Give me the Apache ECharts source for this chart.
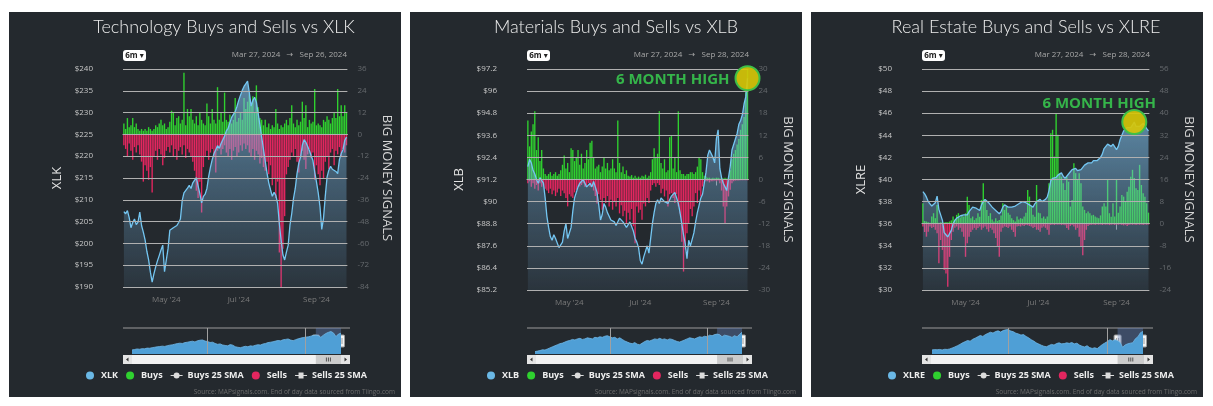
<!DOCTYPE html>
<html><head><meta charset="utf-8">
<script src="https://cdn.jsdelivr.net/npm/echarts@6/dist/echarts.min.js"></script>
<style>
html,body{margin:0;padding:0;background:#ffffff;}
body{width:1213px;height:406px;position:relative;overflow:hidden;}
.p{position:absolute;top:12px;width:392px;height:385px;background:#24292e;}
</style></head>
<body>
<div id="c1" class="p" style="left:9px"></div>
<div id="c2" class="p" style="left:410px"></div>
<div id="c3" class="p" style="left:811px"></div>
<script>
// ---------- categories ----------
const holidays = ['2024-03-29','2024-05-27','2024-06-19','2024-07-04','2024-09-02'];
const labelMonths = [4, 6, 8]; // May, Jul, Sep
const monthNames = ['Jan','Feb','Mar','Apr','May','Jun','Jul','Aug','Sep','Oct','Nov','Dec'];
const legendNames = ['Buys', 'Buys 25 SMA', 'Sells', 'Sells 25 SMA'];

// ---------- XLK ----------
const xlkPrice = [207.3,206.8,207.5,205.9,203.6,204.8,205.6,204.3,204.9,207.2,
204.1,202.6,200.8,198.2,196.2,193.4,191.1,193.0,194.6,196.0,
197.2,198.5,199.6,193.5,193.9,198.8,203.0,202.8,203.6,203.4,
204.1,204.8,205.6,209.8,211.6,212.0,212.7,213.3,212.6,213.9,
214.2,215.1,213.2,211.4,209.3,210.8,211.3,212.6,215.4,217.5,
219.2,220.6,221.5,222.4,221.8,222.9,223.1,224.6,225.8,226.4,
227.7,228.9,229.6,230.2,231.4,232.8,234.0,235.1,236.0,236.6,
237.2,234.6,231.5,232.8,233.5,232.4,232.8,227.2,224.3,221.6,
218.9,216.2,213.9,212.3,210.8,211.7,211.0,209.2,204.5,200.7,
197.4,196.2,198.0,199.6,204.2,206.8,210.3,212.6,216.0,218.4,
219.8,222.5,223.8,223.2,222.9,221.3,220.1,219.0,216.4,214.1,
211.6,208.4,203.2,205.8,210.9,215.2,216.8,217.7,217.0,217.3,
216.5,216.0,219.2,220.6,221.5,223.6,224.4];
const xlkBuys = [6,3,9,4,5,9,4,6,3,2,
3,2,3,2,4,3,2,3,5,4,
6,8,5,6,3,4,7,13,12,5,
9,10,6,8,34,5,14,10,14,8,
6,10,5,12,8,6,5,17,10,6,
14,8,6,26,8,12,7,23,8,7,
11,6,8,20,7,9,12,8,20,14,
18,22,16,21,12,27,15,9,8,5,
8,4,6,3,5,4,14,6,3,5,
4,6,8,5,9,16,6,4,8,5,
7,18,9,16,4,8,6,7,25,5,
6,5,4,8,7,10,8,6,9,12,
9,25,10,16,10,16,12];
const xlkSells = [-6,-8,-12,-5,-9,-14,-7,-10,-6,-11,
-15,-26,-17,-20,-25,-18,-32,-12,-9,-14,
-8,-11,-17,-13,-9,-7,-10,-6,-12,-8,
-14,-9,-7,-11,-6,-13,-8,-10,-12,-15,
-20,-31,-35,-26,-43,-18,-12,-9,-14,-10,
-8,-12,-21,-9,-7,-11,-8,-6,-10,-12,
-8,-14,-9,-7,-12,-10,-6,-9,-5,-8,
-6,-10,-12,-8,-14,-9,-11,-16,-13,-18,
-20,-15,-22,-17,-28,-24,-35,-26,-65,-84,
-63,-45,-22,-18,-14,-10,-12,-8,-15,-21,
-12,-9,-14,-19,-11,-8,-13,-10,-25,-17,
-22,-28,-20,-24,-15,-12,-19,-10,-8,-17,
-9,-11,-7,-12,-8,-10,-6];
const xlkNav = [105,108,112,110,114,113,118,117,121,124,
127,129,132,130,135,139,141,146,150,153,
151,157,160,164,167,162,170,174,176,168,
165,158,160,151,145,148,140,137,134,143,
139,128,124,121,126,131,128,134,132,138,
142,140,147,151,157,160,163,168,172,170,
177,180,183,175,171,178,184,189,193,196,
198,203,208,210,206,195,210,222,230,236,
226,200,218,224];
const xlkPriceTicks = [190, 240, 5];
const xlkSignalTicks = [-84, 36, 12];
const xlkNavRange = [76, 261];

// ---------- XLB ----------
const xlbPrice = [91.9,92.3,92.1,91.7,91.5,91.2,91.0,91.3,91.4,91.0,
90.2,89.2,88.6,88.1,87.9,88.2,88.0,88.1,87.5,87.6,
87.8,88.4,88.8,88.0,87.9,88.6,89.5,90.2,90.5,90.8,
91.0,91.1,91.2,91.0,90.8,90.9,91.0,90.8,91.1,91.0,
90.5,89.8,89.0,89.3,89.9,89.7,89.4,89.2,89.0,89.1,
88.9,88.7,88.8,89.1,89.0,88.9,88.8,88.6,88.5,88.9,
89.0,88.4,88.0,87.8,87.5,86.8,86.6,87.0,87.3,87.6,
87.2,88.0,88.8,89.4,89.9,90.1,89.9,90.2,90.3,90.0,
90.1,89.9,90.0,90.3,90.4,90.5,90.2,89.9,89.4,88.8,
88.2,87.7,86.9,87.9,87.6,87.7,88.3,88.9,89.4,89.8,
90.2,90.4,91.0,91.6,92.5,92.8,92.7,92.4,92.1,93.4,
93.9,91.8,91.3,91.0,90.8,90.6,91.3,91.9,92.8,93.1,
93.4,93.7,94.2,94.4,94.7,95.3,95.7,96.7];
const xlbBuys = [16,9,13,15,18.5,8,11.5,5,8,3,
1.5,1,1.5,2,1,1.5,2,1,1.5,2.5,
4,6.5,3,4.5,2,8.5,8,5,6,8,
4,7,3,4.5,8,5.5,10,10.5,6,3,
3.5,4,2,3.5,6,3,4.5,2.5,3,5.5,
3,2,16,4.5,2,3.5,1.5,2.5,1,0.8,
1.2,0.5,1,0.5,0.8,0.5,1,0.8,1.3,0.5,
1,2,5.5,8.5,6,7,18.5,4.5,3,5.5,
2,2.5,11.5,12,3,6,2,18.5,2.5,1.5,
1.5,1,1.5,1.5,2,2,1.5,2,3.5,6,
5.5,2,1,0.8,0.5,0.5,0.3,0.5,0.3,0.5,
0.5,0.3,0.5,0.3,0.5,0.3,0.5,2.5,5.5,7,
8,9.5,11,13.5,15,17,24,30];
const xlbSells = [-1,-0.5,-2,-1,-2.5,-1.5,-3,-1,-2,-1.5,
-2.5,-3,-3.7,-2.5,-4,-3,-4.5,-3.5,-2.5,-4.5,
-3,-3.7,-5,-7.3,-4,-4.6,-5,-3.5,-2.8,-2,
-1.9,-1.5,-1,-2,-1.5,-1,-2,-1.5,-3,-4.5,
-6.5,-4,-5.5,-8.2,-5,-6.4,-4.5,-7.3,-5.5,-8.2,
-6,-7.3,-5,-9.2,-7,-10,-8.5,-11.8,-9,-10.9,
-8,-12.7,-17.3,-7.3,-9,-8.2,-10.9,-6.5,-7.3,-5,
-6.4,-3,-1.5,-1,-2,-1,-1.5,-3.7,-2.5,-4.6,
-3,-7.3,-4,-3.7,-5,-6.4,-4,-7.3,-9.2,-16.9,
-25,-19,-14.6,-11.8,-8,-10,-7.3,-3.7,-6.4,-3,
-4.6,-1.9,-1,-0.5,-0.5,-0.8,-0.5,-0.5,-0.3,-0.5,
-0.3,-1,-3,-7.3,-11.9,-7.3,-4.6,-2.8,-1,-0.5,
-0.3,-0.3,-0.3,-0.2,-0.2,-0.2,-0.2,-0.2];
const xlbNav = [60,61,62,63.5,63,65,67,69,71,73,
75,76,78,80,81,83,82,84,85,83,
84,86,85,84,87,86,88,87,89,90,
88,86,87,84,86,83,80,78,76,75,
77,74,73,76,79,81,80,82,84,83,
85,83,84,82,84,83,81,79,78,80,
82,84,86,85,84,86,88,87,89,88,
91,90,92,93,91.9,88.1,91.0,89.9,88.8,86.8,
90.1,87.7,92.5,96.5];
const xlbPriceTicks = [85.2, 97.2, 1.2];
const xlbSignalTicks = [-30, 30, 6];
const xlbNavRange = [55.5, 104.5];

// ---------- XLRE ----------
const xlrePrice = [38.9,38.7,38.4,38.0,37.8,37.6,37.5,37.9,38.5,37.3,
36.8,36.3,35.2,35.0,34.8,35.1,35.4,36.0,36.3,36.5,
36.4,36.7,36.6,36.8,36.9,36.8,37.1,37.3,37.5,37.6,
37.4,37.3,37.2,37.7,38.0,38.2,38.1,37.9,37.7,37.5,
37.4,37.2,37.1,36.9,37.1,37.5,37.7,37.6,37.5,37.4,
37.5,37.6,37.6,37.7,37.8,37.9,38.0,38.0,37.9,37.8,
37.7,37.6,37.5,37.8,38.0,38.1,38.2,38.0,38.1,38.2,
38.4,39.0,39.9,40.1,40.0,40.2,40.4,40.5,40.6,40.3,
40.1,40.0,40.5,40.7,40.9,41.0,41.0,40.8,40.7,40.9,
41.1,41.3,41.4,41.5,41.4,41.5,41.7,41.8,41.7,41.8,
42.0,42.3,42.8,43.0,43.2,43.1,43.0,43.2,43.3,42.7,
43.0,43.6,44.0,44.4,44.5,44.7,44.6,44.7,44.8,45.2,
44.8,44.95,44.8,44.9,45.1,45.0,44.6,44.4];
const xlreBuys = [7.4,1,0.8,0.5,0.3,2.6,3.8,2,6.8,0.3,
0.5,0.6,0.4,0.6,0.5,0.8,1.2,2.6,1.5,3.2,
3.8,2.2,3.2,2.6,3.8,9.8,6.8,2,2.6,1.3,
2,3.8,2.5,8.6,14.6,8.6,5,2.8,3.8,1.5,
0.8,2,1,1.3,3,7.4,5,6.2,4,3.2,
2,1.3,0.8,2.6,1.5,2,1.8,2.6,4,12.2,
9.8,6.2,3.2,2.5,14,4,3.8,2,2.6,1.8,
2.6,14.6,32.7,34,24.3,40,32.2,18.3,17,14.6,
12.2,17,15.2,6.2,8.6,21.9,18.3,15.9,18.3,14.6,
6.2,5,3.8,4.4,3.8,3,3.2,2.6,2.2,2,
3,6.2,7.4,6.2,15.9,3.8,2.5,7.4,2.6,15.9,
4,6.2,10.4,9.8,8,11.6,13.4,17,19.5,16.5,
12.8,12.2,21.3,14,11,9.8,7.4,4];
const xlreSells = [-1,-3,-4.7,-2.9,-1,-1.6,-1.2,-2.2,-3.5,-14.3,
-5.9,-9.5,-16.8,-18,-22.8,-12,-5.9,-2.9,-1.5,-1,
-2.2,-1.5,-2.9,-4.7,-12,-7.1,-4.7,-3,-2.2,-1.5,
-2.2,-1.6,-1,-2.2,-1.5,-1,-2,-2.9,-1.5,-2.2,
-3.5,-5.2,-8.2,-12,-2.9,-1.5,-1,-1.2,-1.6,-1,
-2.2,-3,-4.7,-1,-0.8,-1,-0.6,-0.8,-0.5,-0.6,
-0.8,-1,-1.6,-1.2,-2.2,-2,-2.9,-1.5,-1,-1.5,
-2.2,-4,-0.5,-0.3,-0.5,-0.3,-0.4,-0.3,-0.5,-0.4,
-0.6,-1.6,-2.2,-0.8,-0.5,-1,-2.2,-1.5,-4.7,-8.3,
-11.4,-5.9,-2.2,-0.8,-0.5,-0.4,-0.3,-0.5,-0.3,-0.4,
-0.3,-0.5,-0.3,-0.4,-0.3,-0.5,-0.4,-0.3,-0.5,-0.3,
-0.4,-0.3,-0.5,-0.6,-0.4,-0.8,-0.5,-0.3,-0.4,-0.3,
-0.5,-0.3,-0.4,-0.3,-0.5,-0.3,-0.4,-0.3];
const xlreNav = [34,34.2,34.1,34.3,34.0,34.4,34.3,34.6,35.2,35.8,
36.5,37.3,38.2,38.9,39.6,39.2,40.3,41.0,41.8,42.6,
42.0,43.1,43.8,44.5,44.0,44.9,45.3,44.6,45.5,45.9,
46.1,45.2,44.8,43.9,43.5,42.8,43.1,42.0,41.2,40.1,
39.3,38.2,37.5,36.8,36.2,35.9,36.6,37.3,36.9,37.8,
38.2,37.6,37.8,38.2,37.9,38.4,37.6,38.0,36.9,36.2,
35.8,36.5,35.4,34.9,35.3,34.8,36.0,37.2,38.1,39.0,
40.1,39.4,40.0,39.5,38.4,35.6,37.0,37.6,38.0,38.3,
40.6,41.8,44.2,45.0];
const xlrePriceTicks = [30, 50, 2];
const xlreSignalTicks = [-24, 56, 8];
const xlreNavRange = [31.6, 47];

const navYearLines = [30, 69];

// ---------- helpers ----------
function tradingDays(start, end) {
  const out = [];
  let d = new Date(start + 'T00:00:00Z');
  const e = new Date(end + 'T00:00:00Z');
  while (d <= e) {
    const wd = d.getUTCDay();
    const s = d.toISOString().slice(0, 10);
    if (wd !== 0 && wd !== 6 && holidays.indexOf(s) < 0) out.push(s);
    d = new Date(d.getTime() + 86400000);
  }
  return out;
}
function fmtMonth(v) {
  return monthNames[+v.slice(5, 7) - 1] + " '" + v.slice(2, 4);
}
const FONT = "'Open Sans', 'DejaVu Sans', sans-serif";
const TFONT = "Lato, 'Open Sans', sans-serif";
function txt(x, y, text, font, fill, align, valign) {
  return { type: 'text', x: x, y: y, silent: true, z: 100,
    style: { text: text, font: font, fill: fill, textAlign: align, textVerticalAlign: valign, align: align, verticalAlign: valign } };
}

function buildPanel(id, p) {
  const chart = echarts.init(document.getElementById(id), null, { renderer: 'canvas' });
  const cats = tradingDays(p.start, p.end);
  const labelIdx = {};
  cats.forEach(function (d, i) {
    const m = +d.slice(5, 7) - 1;
    if (i > 0 && d.slice(5, 7) !== cats[i - 1].slice(5, 7) && labelMonths.indexOf(m) >= 0) labelIdx[i] = true;
  });
  const navCats = p.nav.map(function (_, i) { return i; });
  const winStart = p.nav.length - p.win;
  const plotRight = 392 - p.gr;

  const areaGrad = new echarts.graphic.LinearGradient(0, 0, 0, 1, [
    { offset: 0, color: 'rgba(125,192,236,0.88)' },
    { offset: 1, color: 'rgba(120,180,225,0.12)' }
  ]);

  const priceSeries = {
    name: p.ticker, type: 'line', xAxisIndex: 0, yAxisIndex: 0, data: p.price,
    symbol: 'none', z: 3, color: '#6ab8e6',
    lineStyle: { color: '#74c6f2', width: 1.3 },
    areaStyle: { origin: 'start', color: areaGrad }
  };
  if (p.high) {
    priceSeries.markPoint = {
      symbol: 'circle', symbolSize: 24, z: 10,
      data: [{ type: 'max' }],
      itemStyle: { color: 'rgba(214,198,8,0.92)', borderColor: '#3fbf48', borderWidth: 2 },
      label: Object.assign({ show: true, formatter: '6 MONTH HIGH', color: '#35b54a',
        fontSize: 15, fontWeight: 'bold', fontFamily: FONT }, p.high)
    };
  }

  const option = {
    animation: false,
    textStyle: { fontFamily: FONT },
    legend: {
      left: 72, top: 354, itemWidth: 12, itemHeight: 8, itemGap: 8, selectedMode: false,
      textStyle: { color: '#eeeeee', fontSize: 9, fontWeight: 'bold', fontFamily: FONT },
      data: [
        { name: p.ticker, icon: 'circle' },
        { name: legendNames[0], icon: 'circle' },
        { name: legendNames[1], icon: 'path://M0,3.5H12V4.5H0Z M6,1A3,3,0,1,1,5.99,1Z' },
        { name: legendNames[2], icon: 'circle' },
        { name: legendNames[3], icon: 'path://M0,3.5H12V4.5H0Z M3.5,1H8.5V7H3.5Z' }
      ]
    },
    grid: [
      { left: p.gl, right: p.gr, top: 57, height: p.gh },
      { left: p.nl, right: 392 - p.nr, top: 316, height: 26 }
    ],
    xAxis: [
      { type: 'category', gridIndex: 0, data: cats, boundaryGap: true,
        axisLine: { show: true, lineStyle: { color: '#b0b0b0', width: 1.2 } },
        axisTick: { show: true, alignWithLabel: true, length: 6, interval: function (i) { return !!labelIdx[i]; }, lineStyle: { color: '#9a9a9a' } },
        axisLabel: { interval: function (i) { return !!labelIdx[i]; }, formatter: fmtMonth, color: '#7a7a7a', fontSize: 8, margin: 9 },
        splitLine: { show: false } },
      { type: 'category', gridIndex: 1, data: navCats, boundaryGap: false, show: false }
    ],
    yAxis: [
      { type: 'value', gridIndex: 0, position: 'left', min: p.pt[0], max: p.pt[1], interval: p.pt[2], z: 4,
        name: p.ticker, nameLocation: 'middle', nameGap: p.ngl, nameRotate: 90,
        nameTextStyle: { color: '#e2e2e2', fontSize: 13, fontFamily: FONT },
        axisLine: { show: false }, axisTick: { show: false },
        axisLabel: { formatter: function (v) { return '$' + v; }, color: '#c8c8c8', fontSize: 8, margin: 30 },
        splitLine: { show: true, lineStyle: { color: '#b0b0b0', width: 1.2 } } },
      { type: 'value', gridIndex: 0, position: 'right', min: p.st[0], max: p.st[1], interval: p.st[2],
        name: 'BIG MONEY SIGNALS', nameLocation: 'middle', nameGap: p.ngr, nameRotate: -90,
        nameTextStyle: { color: '#d6d6d6', fontSize: 13, fontFamily: FONT },
        axisLine: { show: false }, axisTick: { show: false },
        axisLabel: { color: '#666a6e', fontSize: 8, margin: 10 },
        splitLine: { show: false } },
      { type: 'value', gridIndex: 1, min: p.navRange[0], max: p.navRange[1], show: false }
    ],
    series: [
      { name: legendNames[0], type: 'bar', xAxisIndex: 0, yAxisIndex: 1, data: p.buys,
        color: '#2fd12f', barCategoryGap: '22%', barGap: '-100%', z: 2 },
      { name: legendNames[2], type: 'bar', xAxisIndex: 0, yAxisIndex: 1, data: p.sells,
        color: '#e3265f', barCategoryGap: '22%', barGap: '-100%', z: 2 },
      priceSeries,
      { name: legendNames[1], type: 'line', xAxisIndex: 0, yAxisIndex: 1, data: [], color: '#dcdcdc' },
      { name: legendNames[3], type: 'line', xAxisIndex: 0, yAxisIndex: 1, data: [], color: '#dcdcdc' },
      { name: 'nav', type: 'line', xAxisIndex: 1, yAxisIndex: 2, data: p.nav, symbol: 'none', silent: true,
        lineStyle: { color: '#6fb6e6', width: 0.8 },
        areaStyle: { origin: 'start', color: '#4f9fd6', opacity: 1 },
        markArea: { silent: true, itemStyle: { color: 'rgba(102,133,194,0.38)' },
          data: [[{ xAxis: winStart }, { xAxis: p.nav.length - 1 }]] },
        markLine: { silent: true, symbol: ['none', 'none'], label: { show: false },
          lineStyle: { color: '#a0a0a0', width: 1, type: 'solid' },
          data: navYearLines.map(function (v) { return { xAxis: v }; }) } }
    ],
    graphic: [
      txt(p.tx, 15, p.title, "300 18px " + TFONT, '#ececec', 'center', 'middle'),
      { type: 'rect', shape: { x: p.gl, y: 38, width: 23, height: 11, r: 3 }, style: { fill: '#ffffff' }, silent: true },
      txt(p.gl + 11.5, 43.5, '6m \u25BE', "bold 8px " + FONT, '#222222', 'center', 'middle'),
      txt(plotRight - 3, 43, p.range, "8px " + FONT, '#a8a8a8', 'right', 'middle'),
      txt(386, 380, 'Source: MAPsignals.com. End of day data sourced from Tiingo.com', "6.5px " + FONT, '#6c6c6c', 'right', 'middle'),
      { type: 'line', shape: { x1: p.gl, y1: 316, x2: plotRight, y2: 316 }, style: { stroke: '#9a9a9a', lineWidth: 1 }, silent: true },
      { type: 'rect', shape: { x: p.gl, y: 343, width: plotRight - p.gl, height: 9 }, style: { fill: '#f2f2f2' }, silent: true },
      { type: 'rect', shape: { x: p.gl, y: 343, width: 9, height: 9 }, style: { fill: '#e4e4e4' }, silent: true },
      { type: 'rect', shape: { x: plotRight - 9, y: 343, width: 9, height: 9 }, style: { fill: '#e4e4e4' }, silent: true },
      { type: 'polygon', shape: { points: [[p.gl + 3, 347.5], [p.gl + 5.5, 345.5], [p.gl + 5.5, 349.5]] }, style: { fill: '#333' }, silent: true },
      { type: 'polygon', shape: { points: [[plotRight - 3, 347.5], [plotRight - 5.5, 345.5], [plotRight - 5.5, 349.5]] }, style: { fill: '#333' }, silent: true }
    ]
  };
  chart.setOption(option);

  const xs = chart.convertToPixel({ xAxisIndex: 1 }, winStart);
  const xe = chart.convertToPixel({ xAxisIndex: 1 }, p.nav.length - 1);
  const g = option.graphic.slice();
  g.push({ type: 'rect', shape: { x: xs, y: 343, width: Math.min(xe + 2, plotRight - 9) - xs, height: 9 }, style: { fill: '#cccccc' }, silent: true });
  const mid = (xs + Math.min(xe + 2, plotRight - 9)) / 2;
  [-2, 0, 2].forEach(function (o) {
    g.push({ type: 'line', shape: { x1: mid + o, y1: 345.5, x2: mid + o, y2: 349.5 }, style: { stroke: '#333', lineWidth: 0.8 }, silent: true });
  });
  [xs, xe].forEach(function (x) {
    g.push({ type: 'rect', shape: { x: x - 3.5, y: 323, width: 7, height: 12, r: 1 }, style: { fill: '#f2f2f2', stroke: '#999999', lineWidth: 1 }, silent: true });
    g.push({ type: 'line', shape: { x1: x - 1, y1: 326, x2: x - 1, y2: 332 }, style: { stroke: '#888', lineWidth: 0.8 }, silent: true });
    g.push({ type: 'line', shape: { x1: x + 1, y1: 326, x2: x + 1, y2: 332 }, style: { stroke: '#888', lineWidth: 0.8 }, silent: true });
  });
  chart.setOption({ graphic: g }, { replaceMerge: ['graphic'] });
}

buildPanel('c1', {
  title: 'Technology Buys and Sells vs XLK', ticker: 'XLK', tx: 215,
  start: '2024-03-27', end: '2024-09-26', range: 'Mar 27, 2024   \u2192   Sep 26, 2024',
  price: xlkPrice, buys: xlkBuys, sells: xlkSells, nav: xlkNav, win: 11,
  pt: xlkPriceTicks, st: xlkSignalTicks, navRange: xlkNavRange,
  gl: 114, gr: 51, gh: 218, nl: 123, nr: 332, ngl: 43, ngr: 24, high: null
});
buildPanel('c2', {
  title: 'Materials Buys and Sells vs XLB', ticker: 'XLB', tx: 206,
  start: '2024-03-27', end: '2024-09-28', range: 'Mar 27, 2024   \u2192   Sep 28, 2024',
  price: xlbPrice, buys: xlbBuys, sells: xlbSells, nav: xlbNav, win: 11,
  pt: xlbPriceTicks, st: xlbSignalTicks, navRange: xlbNavRange,
  gl: 117, gr: 50, gh: 221, nl: 125, nr: 332, ngl: 45, ngr: 24,
  high: { position: 'left', distance: 5, offset: [0, 1.5] }
});
buildPanel('c3', {
  title: 'Real Estate Buys and Sells vs XLRE', ticker: 'XLRE', tx: 215,
  start: '2024-03-27', end: '2024-09-28', range: 'Mar 27, 2024   \u2192   Sep 28, 2024',
  price: xlrePrice, buys: xlreBuys, sells: xlreSells, nav: xlreNav, win: 11,
  pt: xlrePriceTicks, st: xlreSignalTicks, navRange: xlreNavRange,
  gl: 111, gr: 50, gh: 221, nl: 121, nr: 332, ngl: 40, ngr: 24,
  high: { position: 'top', distance: 0, offset: [-35, 2] }
});
</script>
</body></html>
